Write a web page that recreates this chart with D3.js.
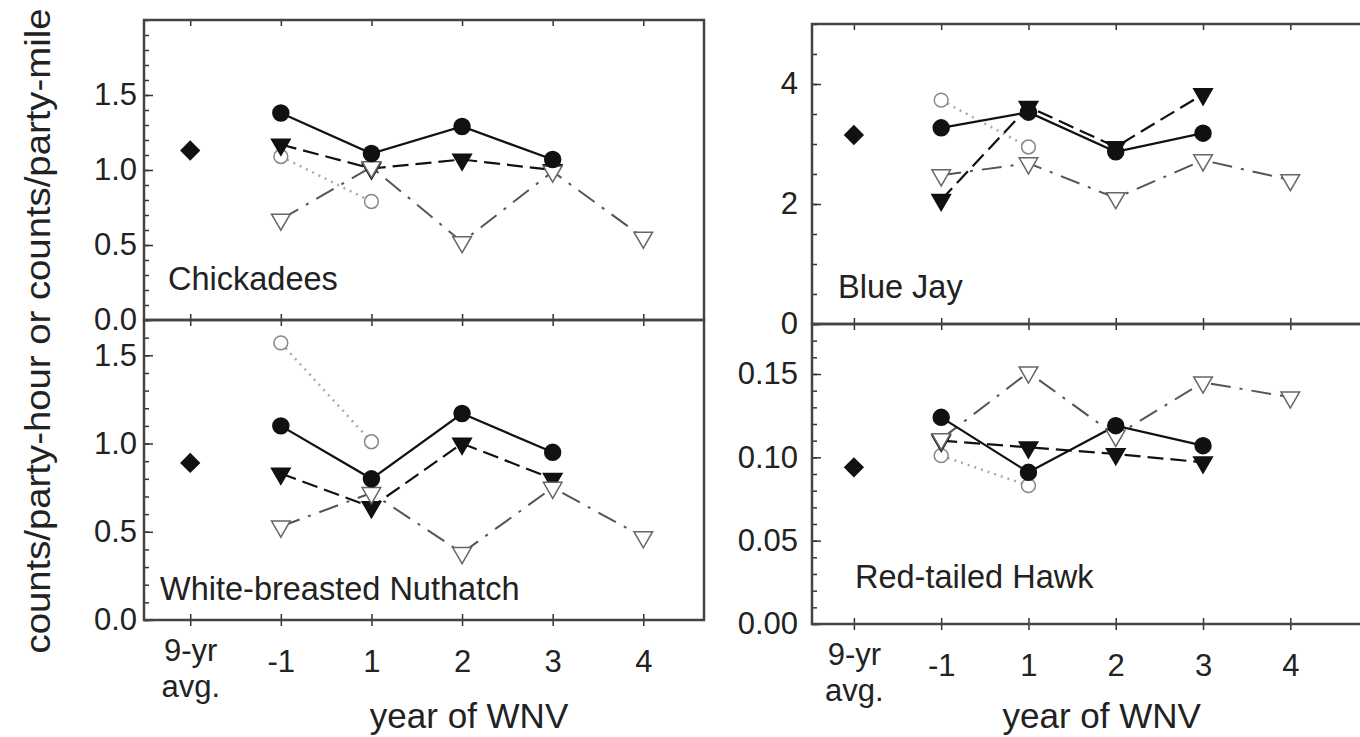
<!doctype html>
<html>
<head>
<meta charset="utf-8">
<title>Counts by year of WNV</title>
<script src="https://cdnjs.cloudflare.com/ajax/libs/d3/7.8.5/d3.min.js"></script>
<style>
  body { margin: 0; background: #fff; }
  svg text { font-family: "Liberation Sans", Arial, sans-serif; fill: #222; }
</style>
</head>
<body>
<svg width="1360" height="737"></svg>
<script>
// x categories (index 0 = 9-yr average)
var categories = ["9-yr avg.", "-1", "1", "2", "3", "4"];

// Chickadees
var chickAvg = [1.13, null, null, null, null, null];
var chickFilledCircle = [null, 1.38, 1.11, 1.29, 1.07, null];
var chickFilledTri = [null, 1.17, 1.01, 1.07, 1.00, null];
var chickOpenCircle = [null, 1.09, 0.79, null, null, null];
var chickOpenTri = [null, 0.67, 1.02, 0.52, 0.99, 0.55];

// White-breasted Nuthatch
var nuthAvg = [0.89, null, null, null, null, null];
var nuthFilledCircle = [null, 1.10, 0.80, 1.17, 0.95, null];
var nuthFilledTri = [null, 0.83, 0.64, 1.00, 0.80, null];
var nuthOpenCircle = [null, 1.57, 1.01, null, null, null];
var nuthOpenTri = [null, 0.53, 0.72, 0.38, 0.75, 0.47];

// Blue Jay
var jayAvg = [3.15, null, null, null, null, null];
var jayFilledCircle = [null, 3.27, 3.53, 2.87, 3.18, null];
var jayFilledTri = [null, 2.07, 3.62, 2.95, 3.83, null];
var jayOpenCircle = [null, 3.73, 2.95, null, null, null];
var jayOpenTri = [null, 2.48, 2.68, 2.10, 2.73, 2.40];

// Red-tailed Hawk
var hawkAvg = [0.094, null, null, null, null, null];
var hawkFilledCircle = [null, 0.124, 0.091, 0.119, 0.107, null];
var hawkFilledTri = [null, 0.110, 0.106, 0.102, 0.097, null];
var hawkOpenCircle = [null, 0.101, 0.083, null, null, null];
var hawkOpenTri = [null, 0.111, 0.151, 0.113, 0.145, 0.136];

// y ticks
var chickMajor = [0, 0.5, 1.0, 1.5];
var nuthMajor = [0, 0.5, 1.0, 1.5];
var jayMajor = [0, 2, 4];
var hawkMajor = [0, 0.05, 0.10, 0.15];

var svg = d3.select("svg");

var styles = {
  openTri:      { stroke: "#555", width: 2,   dash: "20,9,3,9" },
  openCircle:   { stroke: "#aaa", width: 2.5, dash: "2,5" },
  filledTri:    { stroke: "#111", width: 2.2, dash: "16,7" },
  filledCircle: { stroke: "#111", width: 2.2, dash: null }
};

var panels = [
  { name: "Chickadees", left: 144, right: 704, top: 20, bottom: 320, xDomain: [-0.51, 5.67],
    yDomain: [0, 2.0], minorStep: 0.1, major: chickMajor, fmt: d3.format(".1f"), pad: 7,
    labelX: 24, labelY: 30, xLabels: false,
    series: { avg: chickAvg, filledCircle: chickFilledCircle, filledTri: chickFilledTri, openCircle: chickOpenCircle, openTri: chickOpenTri } },
  { name: "White-breasted Nuthatch", left: 144, right: 704, top: 320, bottom: 620, xDomain: [-0.51, 5.67],
    yDomain: [0, 1.7], minorStep: 0.1, major: nuthMajor, fmt: d3.format(".1f"), pad: 7,
    labelX: 16, labelY: 20, xLabels: true, titleShift: 7,
    series: { avg: nuthAvg, filledCircle: nuthFilledCircle, filledTri: nuthFilledTri, openCircle: nuthOpenCircle, openTri: nuthOpenTri } },
  { name: "Blue Jay", left: 812, right: 1368, top: 24, bottom: 324, xDomain: [-0.48, 5.89],
    yDomain: [0, 5], minorStep: 0.5, major: jayMajor, fmt: d3.format("d"), pad: 14,
    labelX: 26, labelY: 26, xLabels: false,
    series: { avg: jayAvg, filledCircle: jayFilledCircle, filledTri: jayFilledTri, openCircle: jayOpenCircle, openTri: jayOpenTri } },
  { name: "Red-tailed Hawk", left: 812, right: 1368, top: 324, bottom: 624, xDomain: [-0.48, 5.89],
    yDomain: [0, 0.18], minorStep: 0.01, major: hawkMajor, fmt: d3.format(".2f"), pad: 14,
    labelX: 43, labelY: 36, xLabels: true, titleShift: -14,
    series: { avg: hawkAvg, filledCircle: hawkFilledCircle, filledTri: hawkFilledTri, openCircle: hawkOpenCircle, openTri: hawkOpenTri } }
];

var circleSym = d3.symbol().type(d3.symbolCircle).size(200);
var openCircleSym = d3.symbol().type(d3.symbolCircle).size(150);
var triSym = d3.symbol().type(d3.symbolTriangle).size(150);
var diamondSym = d3.symbol().type(d3.symbolSquare).size(165);

function points(values) {
  return values.map(function(v, i) { return { i: i, v: v }; }).filter(function(d) { return d.v != null; });
}

panels.forEach(function(p) {
  var g = svg.append("g");
  var x = d3.scaleLinear().domain(p.xDomain).range([p.left, p.right]);
  var y = d3.scaleLinear().domain(p.yDomain).range([p.bottom, p.top]);
  var idx = d3.range(categories.length);

  // minor y ticks (inward)
  var minor = d3.range(0, p.yDomain[1] + 1e-9, p.minorStep);
  g.append("g").attr("transform", "translate(" + p.left + ",0)")
    .call(d3.axisLeft(y).tickValues(minor).tickSize(-5).tickFormat(""))
    .call(function(a) { a.select(".domain").remove(); });

  // major y ticks with labels
  g.append("g").attr("class", "yaxis").attr("transform", "translate(" + p.left + ",0)")
    .call(d3.axisLeft(y).tickValues(p.major).tickSize(-9).tickPadding(p.pad).tickFormat(p.fmt))
    .call(function(a) { a.select(".domain").remove(); });

  // x ticks, inward on top and bottom edges
  g.append("g").attr("transform", "translate(0," + p.top + ")")
    .call(d3.axisTop(x).tickValues(idx).tickSize(-6).tickFormat(""))
    .call(function(a) { a.select(".domain").remove(); });
  g.append("g").attr("transform", "translate(0," + p.bottom + ")")
    .call(d3.axisTop(x).tickValues(idx).tickSize(6).tickFormat(""))
    .call(function(a) { a.select(".domain").remove(); });

  if (p.xLabels) {
    var xa = g.append("g").attr("class", "xaxis").attr("transform", "translate(0," + p.bottom + ")")
      .call(d3.axisBottom(x).tickValues(idx).tickSize(6).tickPadding(24)
        .tickFormat(function(i) { return categories[i]; }));
    xa.select(".domain").remove();
    xa.selectAll(".tick text").each(function(i) {
      var t = d3.select(this);
      var parts = categories[i].split(" ");
      if (parts.length > 1) {
        t.text(null).attr("y", 19);
        t.append("tspan").attr("x", 0).attr("dy", "0.71em").text(parts[0]);
        t.append("tspan").attr("x", 0).attr("dy", "1.15em").text(parts[1]);
      }
    });
    g.append("text")
      .attr("x", x(3) + p.titleShift)
      .attr("y", 728)
      .attr("text-anchor", "middle")
      .style("font-size", "35px")
      .text("year of WNV");
  }

  g.selectAll(".tick line").attr("stroke", "#333").attr("stroke-width", 1.5);
  g.selectAll(".tick text").style("font-size", "31px").attr("fill", "#222");

  // frame
  g.append("rect")
    .attr("x", p.left).attr("y", p.top)
    .attr("width", p.right - p.left).attr("height", p.bottom - p.top)
    .attr("fill", "none").attr("stroke", "#444").attr("stroke-width", 2.5);

  // panel label
  g.append("text")
    .attr("x", p.left + p.labelX).attr("y", p.bottom - p.labelY)
    .style("font-size", "32.5px")
    .text(p.name);

  var line = d3.line()
    .x(function(d) { return x(d.i); })
    .y(function(d) { return y(d.v); });

  ["openTri", "openCircle", "filledTri", "filledCircle"].forEach(function(key) {
    var s = styles[key];
    g.append("path")
      .datum(points(p.series[key]))
      .attr("d", line)
      .attr("fill", "none")
      .attr("stroke", s.stroke)
      .attr("stroke-width", s.width)
      .attr("stroke-dasharray", s.dash);
  });

  function mark(key, sym, fill, stroke, rot) {
    g.selectAll(null)
      .data(points(p.series[key]))
      .enter().append("path")
      .attr("d", sym)
      .attr("transform", function(d) { return "translate(" + x(d.i) + "," + y(d.v) + ") rotate(" + rot + ")"; })
      .attr("fill", fill)
      .attr("stroke", stroke)
      .attr("stroke-width", 1.5);
  }
  mark("openCircle", openCircleSym, "#fff", "#888", 0);
  mark("filledTri", triSym, "#111", "#111", 180);
  mark("openTri", triSym, "#fff", "#666", 180);
  mark("filledCircle", circleSym, "#111", "#111", 0);
  mark("avg", diamondSym, "#111", "#111", 45);
});

// shared y title
svg.append("text")
  .attr("transform", "translate(50,331) rotate(-90)")
  .attr("text-anchor", "middle")
  .attr("textLength", 645)
  .attr("lengthAdjust", "spacingAndGlyphs")
  .style("font-size", "35px")
  .text("counts/party-hour or counts/party-mile");
</script>
</body>
</html>
